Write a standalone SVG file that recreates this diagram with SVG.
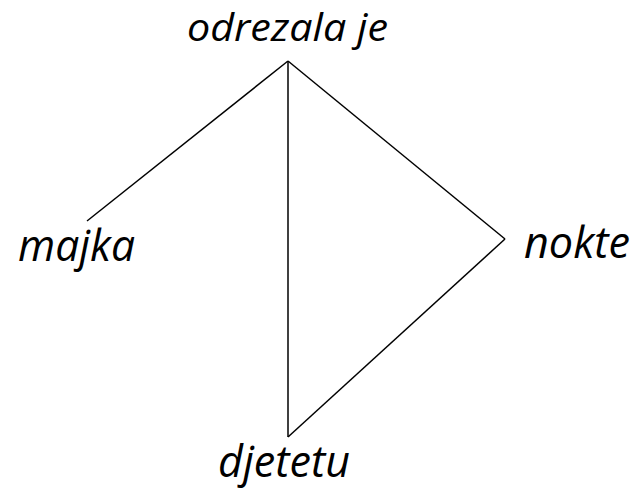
<svg xmlns="http://www.w3.org/2000/svg" width="637" height="489" viewBox="0 0 637 489">
  <style>
    .lbl { font-family: "Open Sans", "Noto Sans", "Liberation Sans", sans-serif; font-style: italic; fill: #000; }
    .edge { stroke: #000; stroke-width: 1.5; fill: none; }
  </style>
  <rect width="637" height="489" fill="#fff"/>
  <g id="connectors">
    <line class="edge" x1="288" y1="61" x2="87" y2="221"/>
    <line class="edge" x1="288" y1="61" x2="288" y2="437" stroke-width="2.2"/>
    <line class="edge" x1="288" y1="61" x2="505" y2="239"/>
    <line class="edge" x1="505" y1="239" x2="288" y2="437"/>
  </g>
  <g id="node-odrezala">
    <text class="lbl" x="187" y="41" font-size="38" textLength="201" lengthAdjust="spacingAndGlyphs">odrezala je</text>
  </g>
  <g id="node-majka">
    <text class="lbl" x="18" y="261" font-size="44" textLength="117" lengthAdjust="spacingAndGlyphs">majka</text>
  </g>
  <g id="node-nokte">
    <text class="lbl" x="524" y="258" font-size="44" textLength="106" lengthAdjust="spacingAndGlyphs">nokte</text>
  </g>
  <g id="node-djetetu">
    <text class="lbl" x="218" y="477" font-size="43" textLength="132" lengthAdjust="spacingAndGlyphs">djetetu</text>
  </g>
</svg>
